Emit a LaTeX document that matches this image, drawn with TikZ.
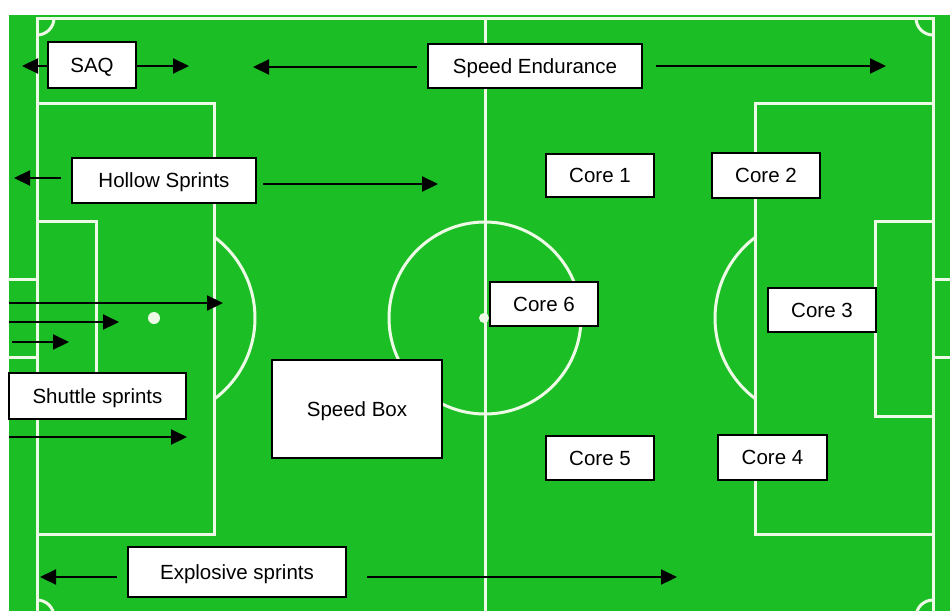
\documentclass[tikz,border=0pt]{standalone}
\usepackage{fontspec}
\setmainfont{Liberation Sans}
\usetikzlibrary{arrows.meta}
\definecolor{pitch}{RGB}{27,190,36}
\definecolor{chalk}{RGB}{236,250,230}
\begin{document}
\begin{tikzpicture}[x=1pt,y=-1pt,
  box/.style={draw=black, line width=2pt, fill=white, inner sep=0pt, text height=14.7pt, text depth=0pt, font=\fontsize{20.5}{24}\selectfont},
  arr/.style={draw=black, line width=2.2pt, -{Triangle[length=16pt,width=15pt]}},
  pline/.style={draw=chalk, line width=3pt},
  spot/.style={fill=chalk}]
\useasboundingbox (0,0) rectangle (950,611);
\fill[white] (0,0) rectangle (950,611);
\fill[pitch] (9,15) rectangle (950,611);
% pitch markings
\begin{scope}
  \clip (9,15) rectangle (950,611);
  \draw[pline] (37,18) rectangle (933,617);
  \draw[pline] (485,18) -- (485,617);
  \draw[pline] (485,318) circle[radius=96pt];
  \fill[spot] (484,318) circle[radius=5pt];
  % left end
  \draw[pline] (37,103) rectangle (214,534);
  \draw[pline] (37,221) rectangle (96,416);
  \draw[pline] (0,279) rectangle (37,357);
  \fill[spot] (154,318) circle[radius=6pt];
  \begin{scope}
    \clip (214,0) rectangle (400,611);
    \draw[pline] (154,318) circle[radius=101pt];
  \end{scope}
  % right end
  \draw[pline] (755,103) rectangle (933,534);
  \draw[pline] (875,221) rectangle (933,416);
  \draw[pline] (933,279) rectangle (960,357);
  \fill[spot] (816,318) circle[radius=6pt];
  \begin{scope}
    \clip (600,0) rectangle (755,611);
    \draw[pline] (816,318) circle[radius=101pt];
  \end{scope}
  % corners
  \begin{scope}
    \clip (37,18) rectangle (933,617);
    \draw[pline] (37,18) circle[radius=17pt];
    \draw[pline] (933,18) circle[radius=17pt];
    \draw[pline] (37,617) circle[radius=17pt];
    \draw[pline] (933,617) circle[radius=17pt];
  \end{scope}
\end{scope}
% boxes
\node[box, minimum width=88pt, minimum height=46pt] (saq) at (92,65) {SAQ};
\node[box, minimum width=214pt, minimum height=44pt] (se) at (535,66) {Speed Endurance};
\node[box, minimum width=184pt, minimum height=45pt] (hs) at (164,180.5) {Hollow Sprints};
\node[box, minimum width=108pt, minimum height=43pt] (c1) at (600,175.5) {Core 1};
\node[box, minimum width=108pt, minimum height=45pt] (c2) at (766,175.5) {Core 2};
\node[box, minimum width=108pt, minimum height=44pt] (c6) at (544,304) {Core 6};
\node[box, minimum width=108pt, minimum height=44pt] (c3) at (822,310) {Core 3};
\node[box, minimum width=108pt, minimum height=44pt] (c5) at (600,458) {Core 5};
\node[box, minimum width=109pt, minimum height=45pt] (c4) at (772.5,457.5) {Core 4};
\node[box, minimum width=170pt, minimum height=98pt] (sb) at (357,409) {Speed Box};
\node[box, minimum width=177pt, minimum height=46pt] (ss) at (97.5,396) {Shuttle sprints};
\node[box, minimum width=218pt, minimum height=50pt] (es) at (237,572) {Explosive sprints};
% free ends
\coordinate (saqL) at (22,66);
\coordinate (saqR) at (189,66);
\coordinate (seL) at (253,67);
\coordinate (seR) at (886,66);
\coordinate (hsL) at (14,178);
\coordinate (hsR) at (438,184);
\coordinate (esL) at (40,577);
\coordinate (esR) at (677,577);
\coordinate (sh1s) at (9,303);  \coordinate (sh1e) at (223,303);
\coordinate (sh2s) at (9,322);  \coordinate (sh2e) at (119,322);
\coordinate (sh3s) at (12,342); \coordinate (sh3e) at (69,342);
\coordinate (sh4s) at (9,437);  \coordinate (sh4e) at (187,437);
% arrows
\draw[arr] (saq.west |- saqL) -- (saqL);
\draw[arr] (saq.east |- saqR) -- (saqR);
\draw[arr, shorten <=10pt] (se.west |- seL) -- (seL);
\draw[arr, shorten <=13pt] (se.east |- seR) -- (seR);
\draw[arr, shorten <=10pt] (hs.west |- hsL) -- (hsL);
\draw[arr, shorten <=6pt] (hs.east |- hsR) -- (hsR);
\draw[arr, shorten <=10pt] (es.west |- esL) -- (esL);
\draw[arr, shorten <=20pt] (es.east |- esR) -- (esR);
\draw[arr] (sh1s) -- (sh1e);
\draw[arr] (sh2s) -- (sh2e);
\draw[arr] (sh3s) -- (sh3e);
\draw[arr] (sh4s) -- (sh4e);
\end{tikzpicture}
\end{document}
